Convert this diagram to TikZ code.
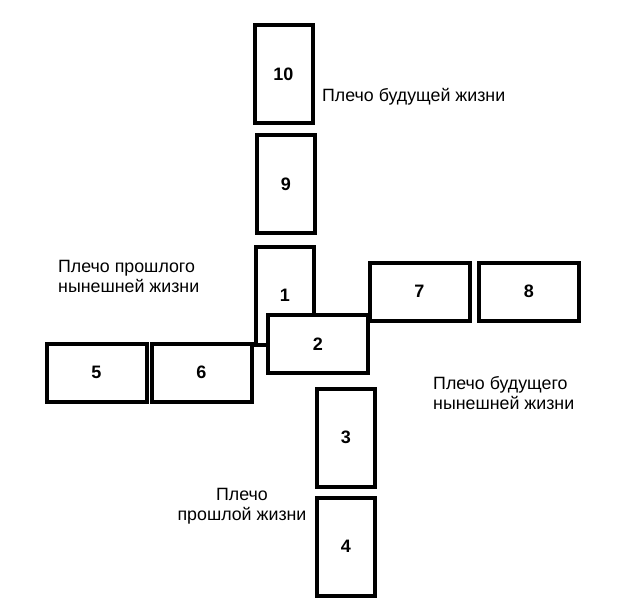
\documentclass[tikz,border=0pt]{standalone}
\usepackage{fontspec}
\setmainfont{Liberation Sans}
\begin{document}
\begin{tikzpicture}[x=1pt, y=-1pt]
        \tikzset{
            vcard/.style={draw, line width=4pt, fill=white, minimum width=58pt, minimum height=98pt, inner sep=0pt, font=\fontsize{18}{20}\selectfont\bfseries},
            hcard/.style={draw, line width=4pt, fill=white, minimum width=100pt, minimum height=58pt, inner sep=0pt, font=\fontsize{18}{20}\selectfont\bfseries},
            caption/.style={font=\fontsize{17.8}{20}\selectfont, inner sep=0pt}
        }
        \useasboundingbox (0,0) rectangle (633,606);

        \node[vcard] (c10) at (283.5, 74) {10};
        \node[vcard] (c9) at (286, 184) {9};
        \node[vcard] (c1) at (285, 295.5) {1};
        \node[hcard] (c2) at (318, 344) {2};
        \node[hcard] (c5) at (96.5, 372.5) {5};
        \node[hcard] (c6) at (201.5, 372.5) {6};
        \node[hcard] (c7) at (419.5, 291.5) {7};
        \node[hcard] (c8) at (529, 291.5) {8};
        \node[vcard] (c3) at (346, 437.5) {3};
        \node[vcard] (c4) at (346, 546.5) {4};

        \node[caption, anchor=west] (future) at (322, 97) {Плечо будущей жизни};
        \node[caption, anchor=west, align=left] (pastnow) at (58, 276.5) {Плечо прошлого\\нынешней жизни};
        \node[caption, anchor=west, align=left] (futurenow) at (433, 393) {Плечо будущего\\нынешней жизни};
        \node[caption, align=center] (past) at (242, 506) {Плечо\\прошлой жизни};
    \end{tikzpicture}
\end{document}
